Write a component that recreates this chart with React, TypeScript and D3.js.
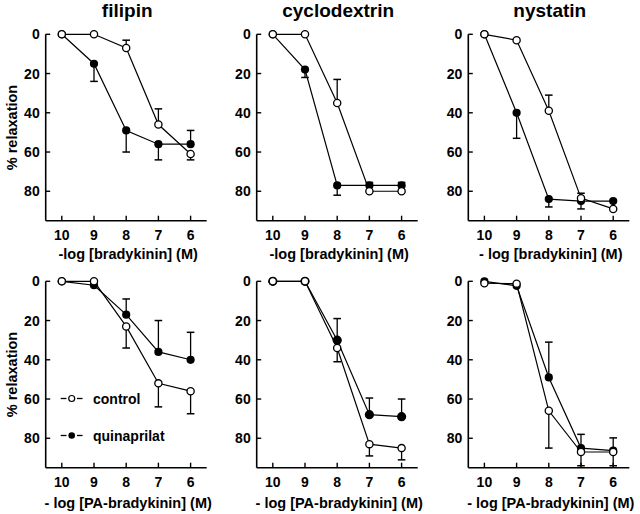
import React from 'react';
import * as d3 from 'd3';

// ---- data ----
const doses = [10, 9, 8, 7, 6];
const yTicks = [0, 20, 40, 60, 80];

const panelTitles = ['filipin', 'cyclodextrin', 'nystatin', '', '', ''];
const xAxisTitles = [
  '-log [bradykinin] (M)',
  '-log [bradykinin] (M)',
  '- log [bradykinin] (M)',
  '- log [PA-bradykinin] (M)',
  '- log [PA-bradykinin] (M)',
  '- log [PA-bradykinin] (M)',
];
const yAxisTitle = '% relaxation';
const legendLabels = ['control', 'quinaprilat'];

// values: % relaxation ; errors: signed length of the one-sided error bar
const filipinControl = [0, 0, 7, 46, 61];
const filipinControlErr = [0, 0, -4, -8, 3];
const filipinQuin = [0, 15, 49, 56, 56];
const filipinQuinErr = [0, 9, 11, 8, -7];

const cycloControl = [0, 0, 35, 80, 80];
const cycloControlErr = [0, 0, -12, 0, 0];
const cycloQuin = [0, 18, 77, 77, 77];
const cycloQuinErr = [0, 4, 5, -1.5, -1.5];

const nystatinControl = [0, 3, 39, 83.5, 89];
const nystatinControlErr = [0, 0, -8, -2.5, 0];
const nystatinQuin = [0, 40, 84, 85, 85];
const nystatinQuinErr = [0, 13, 4, 4, 0];

const paFilipinControl = [0, 0, 23, 52, 56];
const paFilipinControlErr = [0, 0, 11, 12, 11.5];
const paFilipinQuin = [0, 2, 17, 36, 40];
const paFilipinQuinErr = [0, 0, -8, -16, -14];

const paCycloControl = [0, 0, 34, 83, 85];
const paCycloControlErr = [0, 0, 7, 6, 6];
const paCycloQuin = [0, 0, 30, 68, 69];
const paCycloQuinErr = [0, 0, -11, -8.5, -9];

const paNystatinControl = [1, 1.2, 66, 87, 87];
const paNystatinControlErr = [0, 0, 19, 7, 7];
const paNystatinQuin = [0, 2.3, 49, 85, 86.3];
const paNystatinQuinErr = [0, 0, -18, -7, -6.5];

const controls = [filipinControl, cycloControl, nystatinControl, paFilipinControl, paCycloControl, paNystatinControl];
const controlErrs = [filipinControlErr, cycloControlErr, nystatinControlErr, paFilipinControlErr, paCycloControlErr, paNystatinControlErr];
const quins = [filipinQuin, cycloQuin, nystatinQuin, paFilipinQuin, paCycloQuin, paNystatinQuin];
const quinErrs = [filipinQuinErr, cycloQuinErr, nystatinQuinErr, paFilipinQuinErr, paCycloQuinErr, paNystatinQuinErr];

// ---- layout ----
const W = 640;
const H = 514;
const colLefts = [45.7, 256.7, 468.3];
const rowTops = [34.3, 281.3];
const plotW = 161;
const plotH = 186.4;
const FONT = '"Liberation Sans", Arial, Helvetica, sans-serif';

type Pt = { d: number; v: number; e: number };

function Panel({ idx }: { idx: number }) {
  const col = idx % 3;
  const row = Math.floor(idx / 3);
  const left = colLefts[col];
  const top = rowTops[row];
  const x = d3.scaleLinear().domain([10.5, 5.5]).range([left, left + plotW]);
  const y = d3.scaleLinear().domain([0, 95]).range([top, top + plotH]);
  const bottom = y(95);
  const line = d3
    .line<Pt>()
    .x((p) => x(p.d))
    .y((p) => y(p.v));
  const ctrl: Pt[] = doses.map((d, i) => ({ d, v: controls[idx][i], e: controlErrs[idx][i] }));
  const quin: Pt[] = doses.map((d, i) => ({ d, v: quins[idx][i], e: quinErrs[idx][i] }));
  const r = idx === 4 ? 4.6 : 4.1;
  const capW = 3.8;

  const errBars = (pts: Pt[], key: string) =>
    pts
      .filter((p) => p.e !== 0)
      .map((p, i) => (
        <g key={key + i}>
          <line x1={x(p.d)} x2={x(p.d)} y1={y(p.v)} y2={y(p.v + p.e)} stroke="#000" strokeWidth={1.3} />
          <line x1={x(p.d) - capW} x2={x(p.d) + capW} y1={y(p.v + p.e)} y2={y(p.v + p.e)} stroke="#000" strokeWidth={1.5} />
        </g>
      ));

  return (
    <g>
      {panelTitles[idx] && (
        <text x={x(8) + 1} y={17} textAnchor="middle" fontFamily={FONT} fontWeight="bold" fontSize={19}>
          {panelTitles[idx]}
        </text>
      )}
      {/* axes */}
      <line x1={left} x2={left} y1={y(0)} y2={bottom} stroke="#000" strokeWidth={1.6} />
      <line x1={left} x2={left + plotW} y1={bottom} y2={bottom} stroke="#000" strokeWidth={1.6} />
      {yTicks.map((t) => (
        <g key={'yt' + t}>
          <line x1={left} x2={left + 4.5} y1={y(t)} y2={y(t)} stroke="#000" strokeWidth={1.4} />
          <text x={left - 6} y={y(t)} dy="0.36em" textAnchor="end" fontFamily={FONT} fontWeight="bold" fontSize={14}>
            {t}
          </text>
        </g>
      ))}
      {doses.map((d) => (
        <g key={'xt' + d}>
          <line x1={x(d)} x2={x(d)} y1={bottom} y2={bottom - 5} stroke="#000" strokeWidth={1.4} />
          <text x={x(d)} y={bottom + 19} textAnchor="middle" fontFamily={FONT} fontWeight="bold" fontSize={14}>
            {d}
          </text>
        </g>
      ))}
      <text
        x={left + plotW / 2 + 2}
        y={row === 0 ? 258.5 : 508}
        textAnchor="middle"
        fontFamily={FONT}
        fontWeight="bold"
        fontSize={14.5}
      >
        {xAxisTitles[idx]}
      </text>
      {col === 0 && (
        <text
          transform={`translate(16.5,${row === 0 ? 127.5 : 374.5}) rotate(-90)`}
          textAnchor="middle"
          fontFamily={FONT}
          fontWeight="bold"
          fontSize={14.5}
        >
          {yAxisTitle}
        </text>
      )}
      {/* series lines */}
      <path d={line(ctrl) || ''} fill="none" stroke="#000" strokeWidth={1.2} />
      <path d={line(quin) || ''} fill="none" stroke="#000" strokeWidth={1.2} />
      {errBars(ctrl, 'ce')}
      {errBars(quin, 'qe')}
      {quin.map((p, i) => (
        <circle key={'q' + i} cx={x(p.d)} cy={y(p.v)} r={r} fill="#000" />
      ))}
      {ctrl.map((p, i) => (
        <circle key={'c' + i} cx={x(p.d)} cy={y(p.v)} r={3.6} fill="#fff" stroke="#000" strokeWidth={1.3} />
      ))}
      {idx === 3 && (
        <g>
          {legendLabels.map((lab, i) => {
            const ly = i === 0 ? 398.5 : 435.5;
            return (
              <g key={lab}>
                <line x1={60.7} x2={66.5} y1={ly} y2={ly} stroke="#000" strokeWidth={1.3} />
                <line x1={77} x2={82.5} y1={ly} y2={ly} stroke="#000" strokeWidth={1.3} />
                {i === 0 ? (
                  <circle cx={71.7} cy={ly} r={3} fill="#fff" stroke="#000" strokeWidth={1.2} />
                ) : (
                  <circle cx={71.7} cy={ly} r={3.3} fill="#000" />
                )}
                <text x={93} y={ly + 5} fontFamily={FONT} fontWeight="bold" fontSize={14}>
                  {lab}
                </text>
              </g>
            );
          })}
        </g>
      )}
    </g>
  );
}

export default function App() {
  return (
    <svg
      width={W}
      height={H}
      viewBox={`0 0 ${W} ${H}`}
      style={{ position: 'absolute', left: 0, top: 0, background: '#fff' }}
    >
      <rect width={W} height={H} fill="#fff" />
      {[0, 1, 2, 3, 4, 5].map((i) => (
        <Panel key={i} idx={i} />
      ))}
    </svg>
  );
}
